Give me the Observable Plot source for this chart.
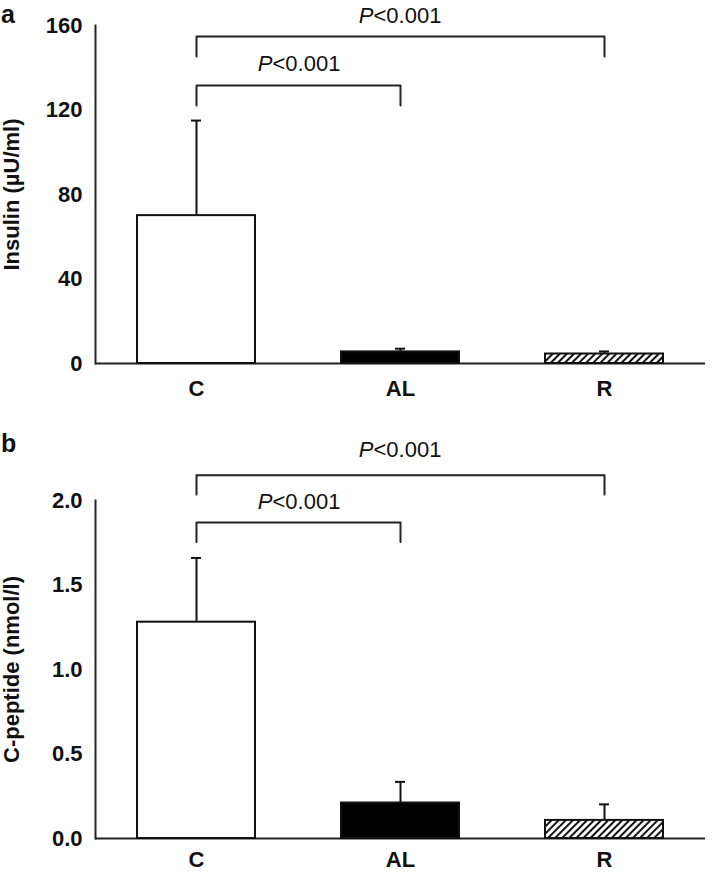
<!DOCTYPE html>
<html>
<head>
<meta charset="utf-8">
<script src="https://cdn.jsdelivr.net/npm/d3@7"></script>
<script src="https://cdn.jsdelivr.net/npm/@observablehq/plot@0.6"></script>
<style>
  body { margin: 0; background: white; }
  #wrap { position: relative; width: 714px; height: 873px; overflow: hidden; }
  .panel-letter { position: absolute; left: 1px; font: bold 25px "Liberation Sans", Arial, sans-serif; line-height: 25px; color: #111; }
  svg { display: block; }
  #wrap svg [aria-label="frame"], #wrap svg [aria-label="frame"] line, #wrap svg [aria-label="frame"] path { stroke-width: 2px; stroke: #222; }
</style>
</head>
<body>
<div id="wrap">
  <div id="panelA"></div>
  <div id="panelB"></div>
  <div class="panel-letter" style="top:2px">a</div>
  <div class="panel-letter" style="top:431px">b</div>
</div>
<script>
// ---- data ----
const categories = ["C", "AL", "R"];
const barFills = ["white", "black", "url(#hatchR)"];

const insulinMean = [70, 5.5, 4.5];
const insulinSD   = [45, 1.5, 1.2];
const insulinTicks = [0, 40, 80, 120, 160];

const cpeptideMean = [1.28, 0.21, 0.107];
const cpeptideSD   = [0.38, 0.125, 0.095];
const cpeptideTicks = [0, 0.5, 1.0, 1.5, 2.0];

// significance comparisons (pairs of groups) and p-value labels
const comparisons = [["C", "AL"], ["C", "R"]];
const pLabels = ["<0.001", "<0.001"];
const pLabelAnchorGroup = ["C", "AL"];
const pLabelShift = [76, -27];

const insulinBracketLevel = [131.6, 154.8];
const insulinBracketLeg = 9.5;
const insulinPLabelY = [141.8, 164.5];

const cpeptideBracketLevel = [1.87, 2.15];
const cpeptideBracketLeg = 0.115;
const cpeptidePLabelY = [1.99, 2.30];

function panel({mean, sd, ticks, yMax, label, fmt, height, marginTop, marginBottom, xPad,
                bracketLevel, bracketLeg, pLabelY}) {
  const rows = categories.map((c, i) => ({cat: c, mean: mean[i], sd: sd[i], fill: barFills[i]}));
  const bracketRows = comparisons.flatMap(([a, b], i) => [
    {x: a, y: bracketLevel[i] - bracketLeg, z: i},
    {x: a, y: bracketLevel[i], z: i},
    {x: b, y: bracketLevel[i], z: i},
    {x: b, y: bracketLevel[i] - bracketLeg, z: i}
  ]);
  const pMarks = comparisons.flatMap((cmp, i) => {
    const row = [{x: pLabelAnchorGroup[i], y: pLabelY[i]}];
    return [
      Plot.text(row, {x: "x", y: "y", text: () => "P", dx: pLabelShift[i], textAnchor: "end",
        fontStyle: "italic", fontWeight: "normal", fontSize: 22, fill: "#111"}),
      Plot.text(row, {x: "x", y: "y", text: () => pLabels[i], dx: pLabelShift[i], textAnchor: "start",
        fontWeight: "normal", fontSize: 22, fill: "#111"})
    ];
  });
  const svg = Plot.plot({
    width: 714, height, marginLeft: 95, marginRight: 9, marginTop, marginBottom,
    style: {fontFamily: '"Liberation Sans", Arial, sans-serif', fontSize: "22px", fontWeight: "bold",
            color: "#111", background: "white", overflow: "visible"},
    x: {domain: categories, paddingInner: 0.423, paddingOuter: 0.205, tickSize: 0, tickPadding: xPad, label: null},
    y: {domain: [0, yMax], ticks, tickSize: 0, tickPadding: 13, tickFormat: fmt, label,
        labelAnchor: "center", labelOffset: 92, labelArrow: "none", line: true},
    color: {type: "identity"},
    marks: [
      Plot.ruleY([0], {stroke: "#222", strokeWidth: 2}),
      Plot.ruleX(rows, {x: "cat", y1: "mean", y2: d => d.mean + d.sd, stroke: "#111", strokeWidth: 2}),
      Plot.tickY(rows, {x: "cat", y: d => d.mean + d.sd, insetLeft: 54, insetRight: 54, stroke: "#111", strokeWidth: 2}),
      Plot.barY(rows, {x: "cat", y: "mean", fill: "fill", stroke: "#111", strokeWidth: 2}),
      Plot.line(bracketRows, {x: "x", y: "y", z: "z", stroke: "#222", strokeWidth: 2, curve: "linear"}),
      ...pMarks
    ]
  });
  const defs = d3.select(svg).insert("defs", ":first-child");
  const pat = defs.append("pattern").attr("id", "hatchR").attr("patternUnits", "userSpaceOnUse")
    .attr("width", 5).attr("height", 5).attr("patternTransform", "rotate(45)");
  pat.append("rect").attr("width", 5).attr("height", 5).attr("fill", "white");
  pat.append("rect").attr("width", 2).attr("height", 5).attr("fill", "#111");
  return svg;
}

document.getElementById("panelA").appendChild(panel({
  mean: insulinMean, sd: insulinSD, ticks: insulinTicks, yMax: 160, label: "Insulin (µU/ml)",
  fmt: d3.format("d"), height: 430, marginTop: 25, marginBottom: 67, xPad: 17,
  bracketLevel: insulinBracketLevel, bracketLeg: insulinBracketLeg, pLabelY: insulinPLabelY
}));
document.getElementById("panelB").appendChild(panel({
  mean: cpeptideMean, sd: cpeptideSD, ticks: cpeptideTicks, yMax: 2.0, label: "C-peptide (nmol/l)",
  fmt: d3.format(".1f"), height: 443, marginTop: 70, marginBottom: 35, xPad: 13,
  bracketLevel: cpeptideBracketLevel, bracketLeg: cpeptideBracketLeg, pLabelY: cpeptidePLabelY
}));
</script>
</body>
</html>
